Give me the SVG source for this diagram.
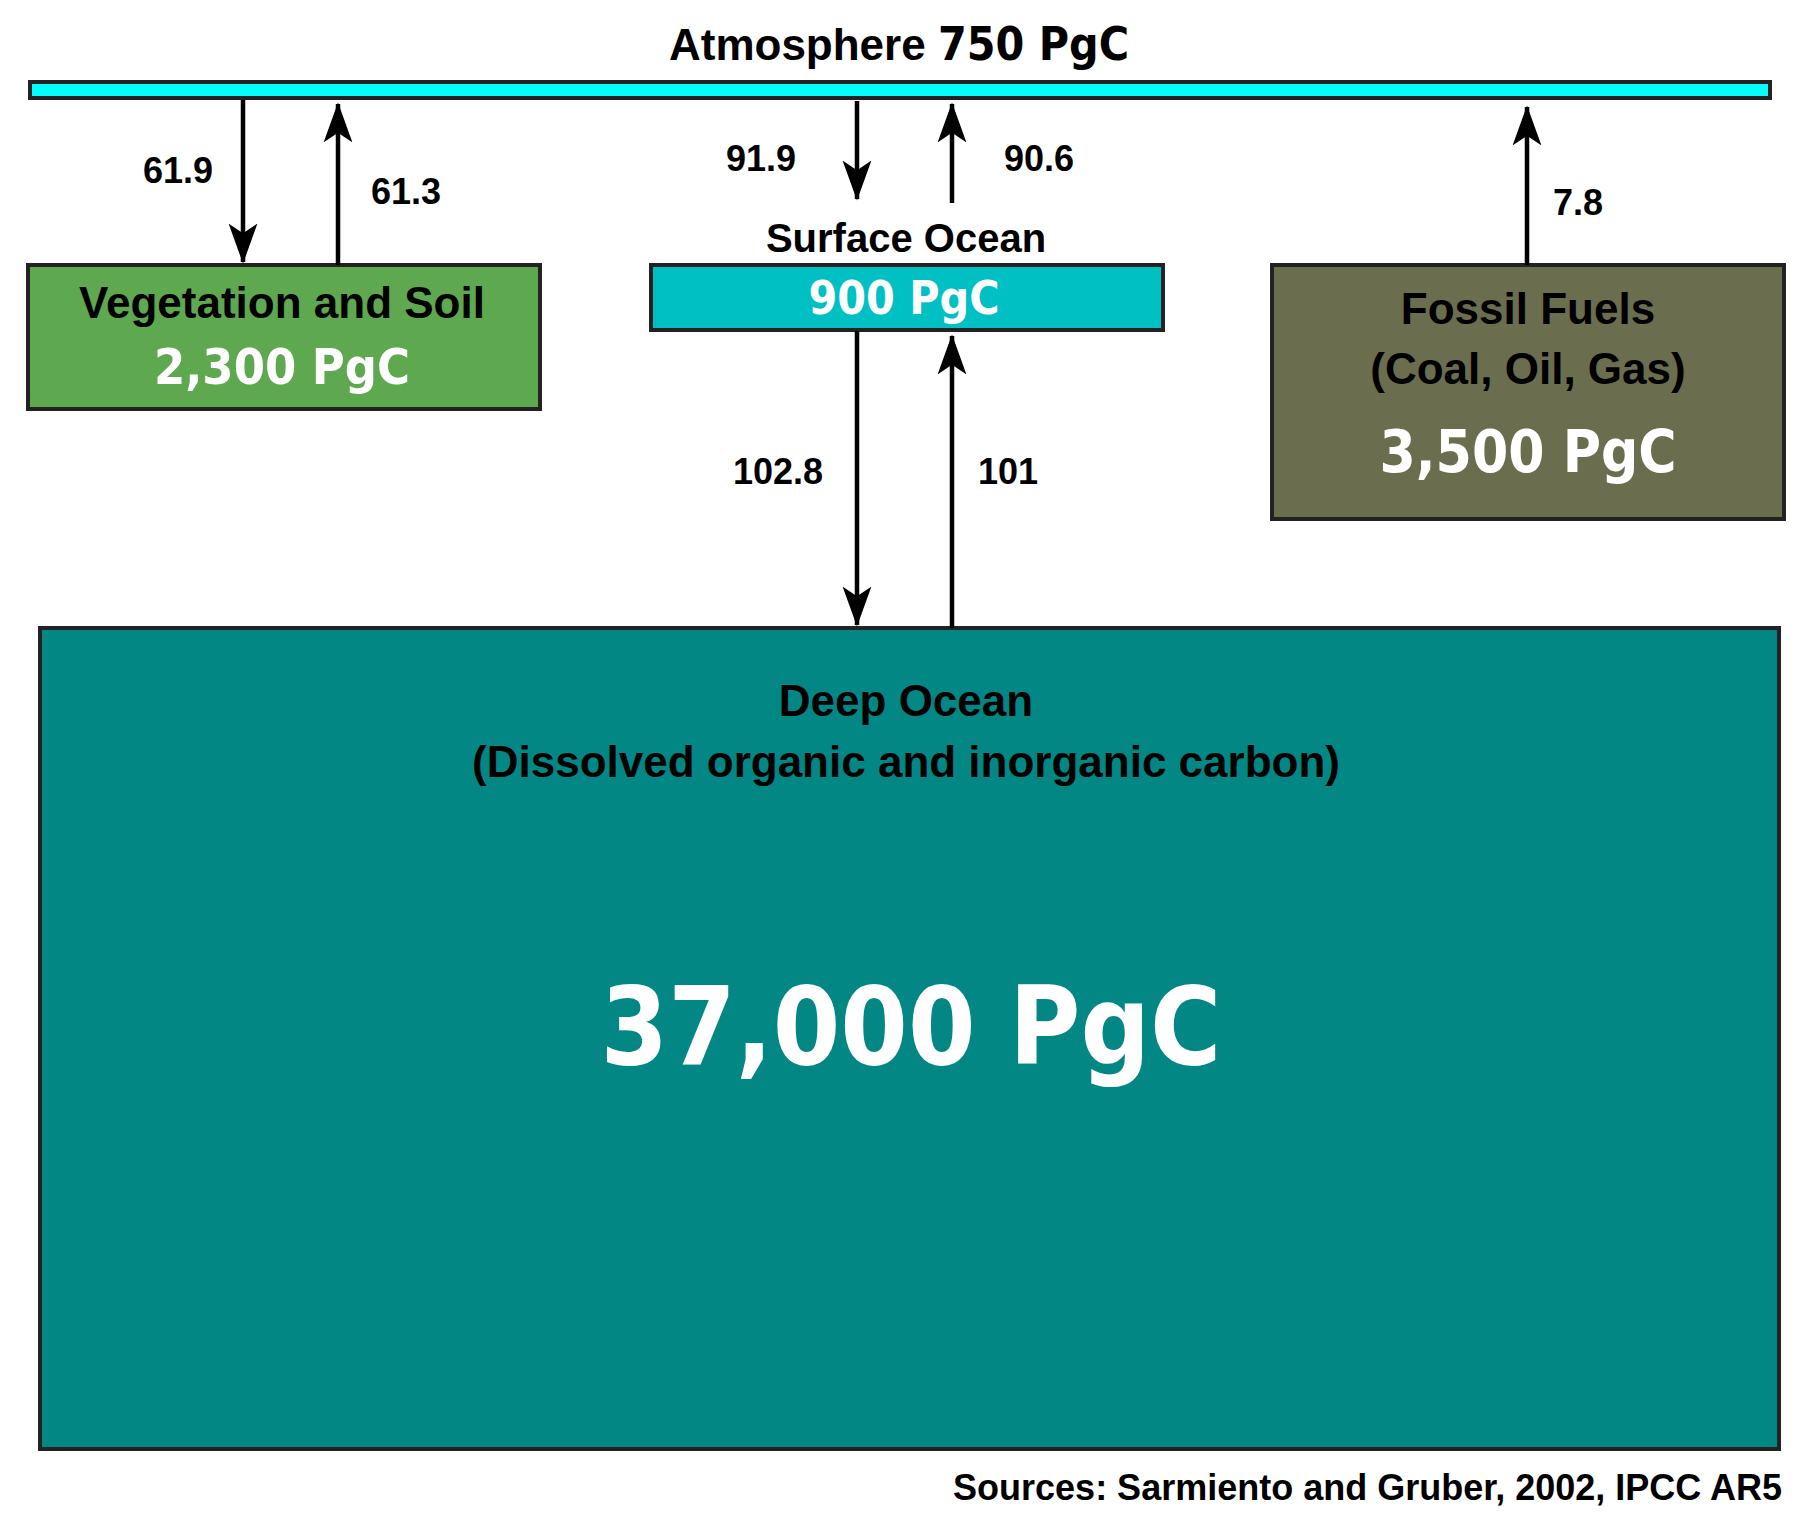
<svg xmlns="http://www.w3.org/2000/svg" width="1814" height="1524" viewBox="0 0 1814 1524">
<style>
.lbl{font-family:"Liberation Sans",Arial,sans-serif;font-weight:bold;fill:#000}
.num{font-family:"DejaVu Sans Condensed","DejaVu Sans",sans-serif;font-stretch:condensed;font-weight:bold;fill:#fff}
.box{stroke:#222;stroke-width:4}
.ar{stroke:#000;stroke-width:4.5;fill:none;marker-end:url(#ah)}
</style>
<defs>
<marker id="ah" markerUnits="userSpaceOnUse" markerWidth="40" markerHeight="60" refX="48" refY="18" orient="auto" viewBox="0 0 50 36">
<path d="M0,0 L50,18 L0,36 L12,18 Z" fill="#000"/>
</marker>
</defs>
<rect width="1814" height="1524" fill="#fff"/>
<g id="atmosphere">
<rect class="box" x="30" y="82" width="1740" height="16" fill="#00ffff"/>
<text class="lbl" x="899" y="60" font-size="44" text-anchor="middle">Atmosphere <tspan class="num" style="fill:#000" font-size="46">750 PgC</tspan></text>
</g>
<g id="vegetation">
<rect class="box" x="28" y="265" width="512" height="144" fill="#5ea94f"/>
<text class="lbl" x="282" y="318" font-size="44" text-anchor="middle">Vegetation and Soil</text>
<text class="num" x="282" y="384" font-size="50" text-anchor="middle">2,300 PgC</text>
</g>
<g id="surface-ocean">
<text class="lbl" x="906" y="252" font-size="40" text-anchor="middle">Surface Ocean</text>
<rect class="box" x="651" y="265" width="512" height="65" fill="#00c0c4"/>
<text class="num" x="904" y="314" font-size="46" text-anchor="middle">900 PgC</text>
</g>
<g id="fossil-fuels">
<rect class="box" x="1272" y="265" width="512" height="254" fill="#6b6e4e"/>
<text class="lbl" x="1528" y="324" font-size="44" text-anchor="middle">Fossil Fuels</text>
<text class="lbl" x="1528" y="384" font-size="44" text-anchor="middle">(Coal, Oil, Gas)</text>
<text class="num" x="1528" y="472" font-size="58" text-anchor="middle">3,500 PgC</text>
</g>
<g id="deep-ocean">
<rect class="box" x="40" y="628" width="1739" height="821" fill="#028785"/>
<text class="lbl" x="906" y="716" font-size="44" text-anchor="middle">Deep Ocean</text>
<text class="lbl" x="906" y="777" font-size="44" text-anchor="middle">(Dissolved organic and inorganic carbon)</text>
<text class="num" x="911" y="1064" font-size="108" text-anchor="middle">37,000 PgC</text>
</g>
<g id="connectors">
<line class="ar" x1="243" y1="100" x2="243" y2="262"/>
<line class="ar" x1="338" y1="265" x2="338" y2="104"/>
<line class="ar" x1="857" y1="101" x2="857" y2="199"/>
<line class="ar" x1="952" y1="203" x2="952" y2="104"/>
<line class="ar" x1="1527" y1="265" x2="1527" y2="107"/>
<line class="ar" x1="857" y1="331" x2="857" y2="625"/>
<line class="ar" x1="952" y1="628" x2="952" y2="336"/>
</g>
<g id="flow-labels" class="lbl" font-size="36" text-anchor="middle">
<text x="178" y="183">61.9</text>
<text x="406" y="204">61.3</text>
<text x="761" y="171">91.9</text>
<text x="1039" y="171">90.6</text>
<text x="1578" y="215">7.8</text>
<text x="778" y="484">102.8</text>
<text x="1008" y="484">101</text>
</g>
<text class="lbl" x="1782" y="1500" font-size="36" text-anchor="end">Sources: Sarmiento and Gruber, 2002, IPCC AR5</text>
</svg>
